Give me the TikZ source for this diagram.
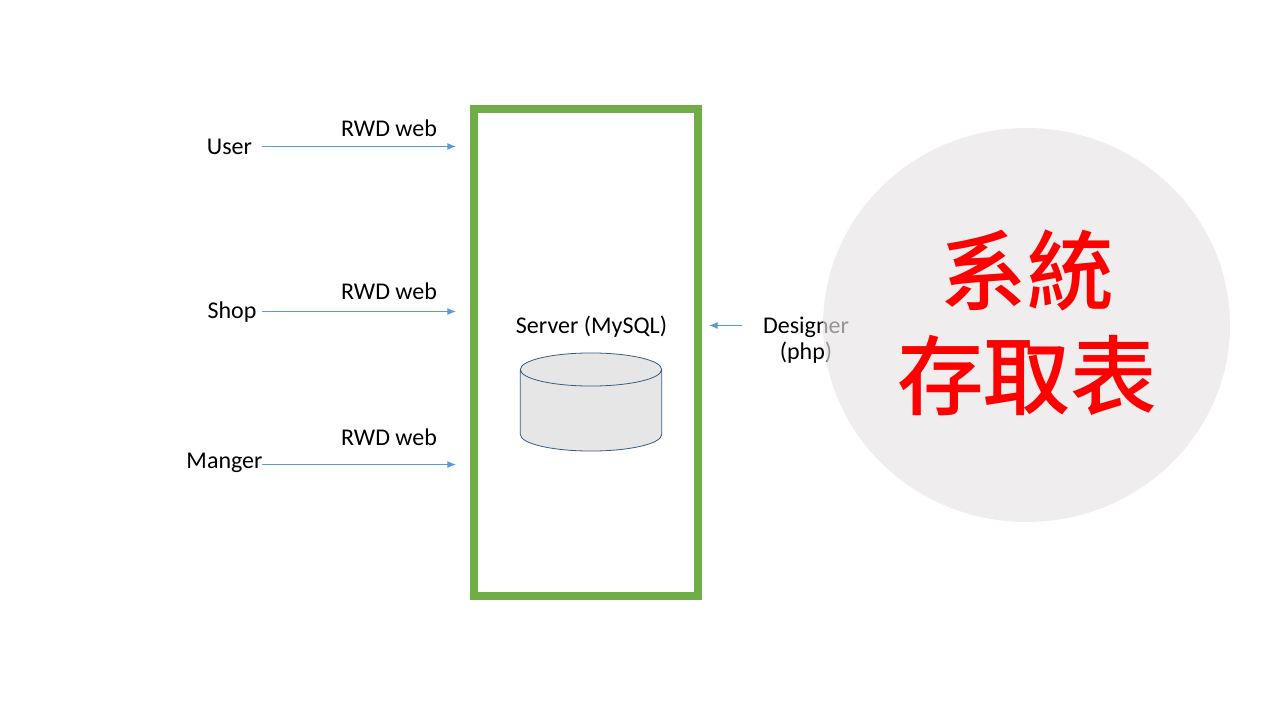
\documentclass[tikz,border=0pt]{standalone}
\usepackage{fontspec}
\setmainfont{Carlito}
\newfontfamily\cjk{Noto Sans CJK TC Medium}
\usetikzlibrary{arrows.meta, shapes.geometric}

\begin{document}
\begin{tikzpicture}[
      x=.75pt,
      y=-.75pt,
      >={Latex[length=6.5pt,width=5.25pt]},
      main node/.style={align=center,inner sep=0pt,font=\fontsize{18}{19.5}\selectfont},
      server box/.style={draw=serverGreen,line width=6pt,minimum width=168pt,minimum height=365.25pt,inner sep=0pt},
      store box/.style={minimum width=106pt,minimum height=73.5pt,inner sep=0pt,outer sep=0pt},
      store/.style={draw=linkBlue!60!black,fill=storeGray,line width=.6pt,x radius=53pt,y radius=12.4pt},
      web link/.style={->,draw=linkBlue,line width=.75pt,shorten >=10.5pt},
      php link/.style={->,draw=linkBlue,line width=.75pt,shorten >=5.25pt},
      title disc/.style={ellipse,fill=discGray,fill opacity=.65,minimum width=305.25pt,minimum height=295.5pt,inner sep=0pt}
      ]
      \definecolor{serverGreen}{HTML}{70AD47}
      \definecolor{linkBlue}{HTML}{5B9BD5}
      \definecolor{storeGray}{HTML}{E7E6E6}
      \definecolor{discGray}{HTML}{E7E4E5}
      \useasboundingbox (0,0) rectangle (1280,720);
      % server
      \node [server box] (server) at (586,352.5) {};
      \node [main node] (serverlabel) at (591.5,327) {Server (MySQL)};
      \node [store box] (database) at (591,402) {};
      \draw [store] (database.north west) ++(0,16.5) -- ++(0,65) arc [start angle=180,end angle=360] -- ++(0,-65) arc [start angle=0,end angle=180] arc [start angle=180,end angle=360];
      % user
      \node [main node] (user) at (229.5,146.5) {User};
      \node [main node] (web1) at (389,128) {RWD web};
      \coordinate (user start) at (262,146.5);
      \draw [web link] (user start) -- (user start -| server.west);
      % shop
      \node [main node] (shop) at (232,312) {Shop};
      \node [main node] (web2) at (389,291) {RWD web};
      \coordinate (shop start) at (262,311.5);
      \draw [web link] (shop start) -- (shop start -| server.west);
      % manger
      \node [main node] (manger) at (224.5,463) {Manger};
      \node [main node] (web3) at (389,437) {RWD web};
      \coordinate (manger start) at (262,464.5);
      \draw [web link] (manger start) -- (manger start -| server.west);
      % designer
      \node [main node] (designer) at (806,340) {Designer\\(php)};
      \coordinate (designer start) at (742,325.5);
      \draw [php link] (designer start) -- (designer start -| server.east);
      % circle
      \node [title disc] (disc) at (1026.5,325) {};
      \node [align=center,inner sep=0pt,text=red,font=\cjk\fontsize{65}{79}\selectfont] (title) at (1027,323) {系統\\存取表};
\end{tikzpicture}
\end{document}
